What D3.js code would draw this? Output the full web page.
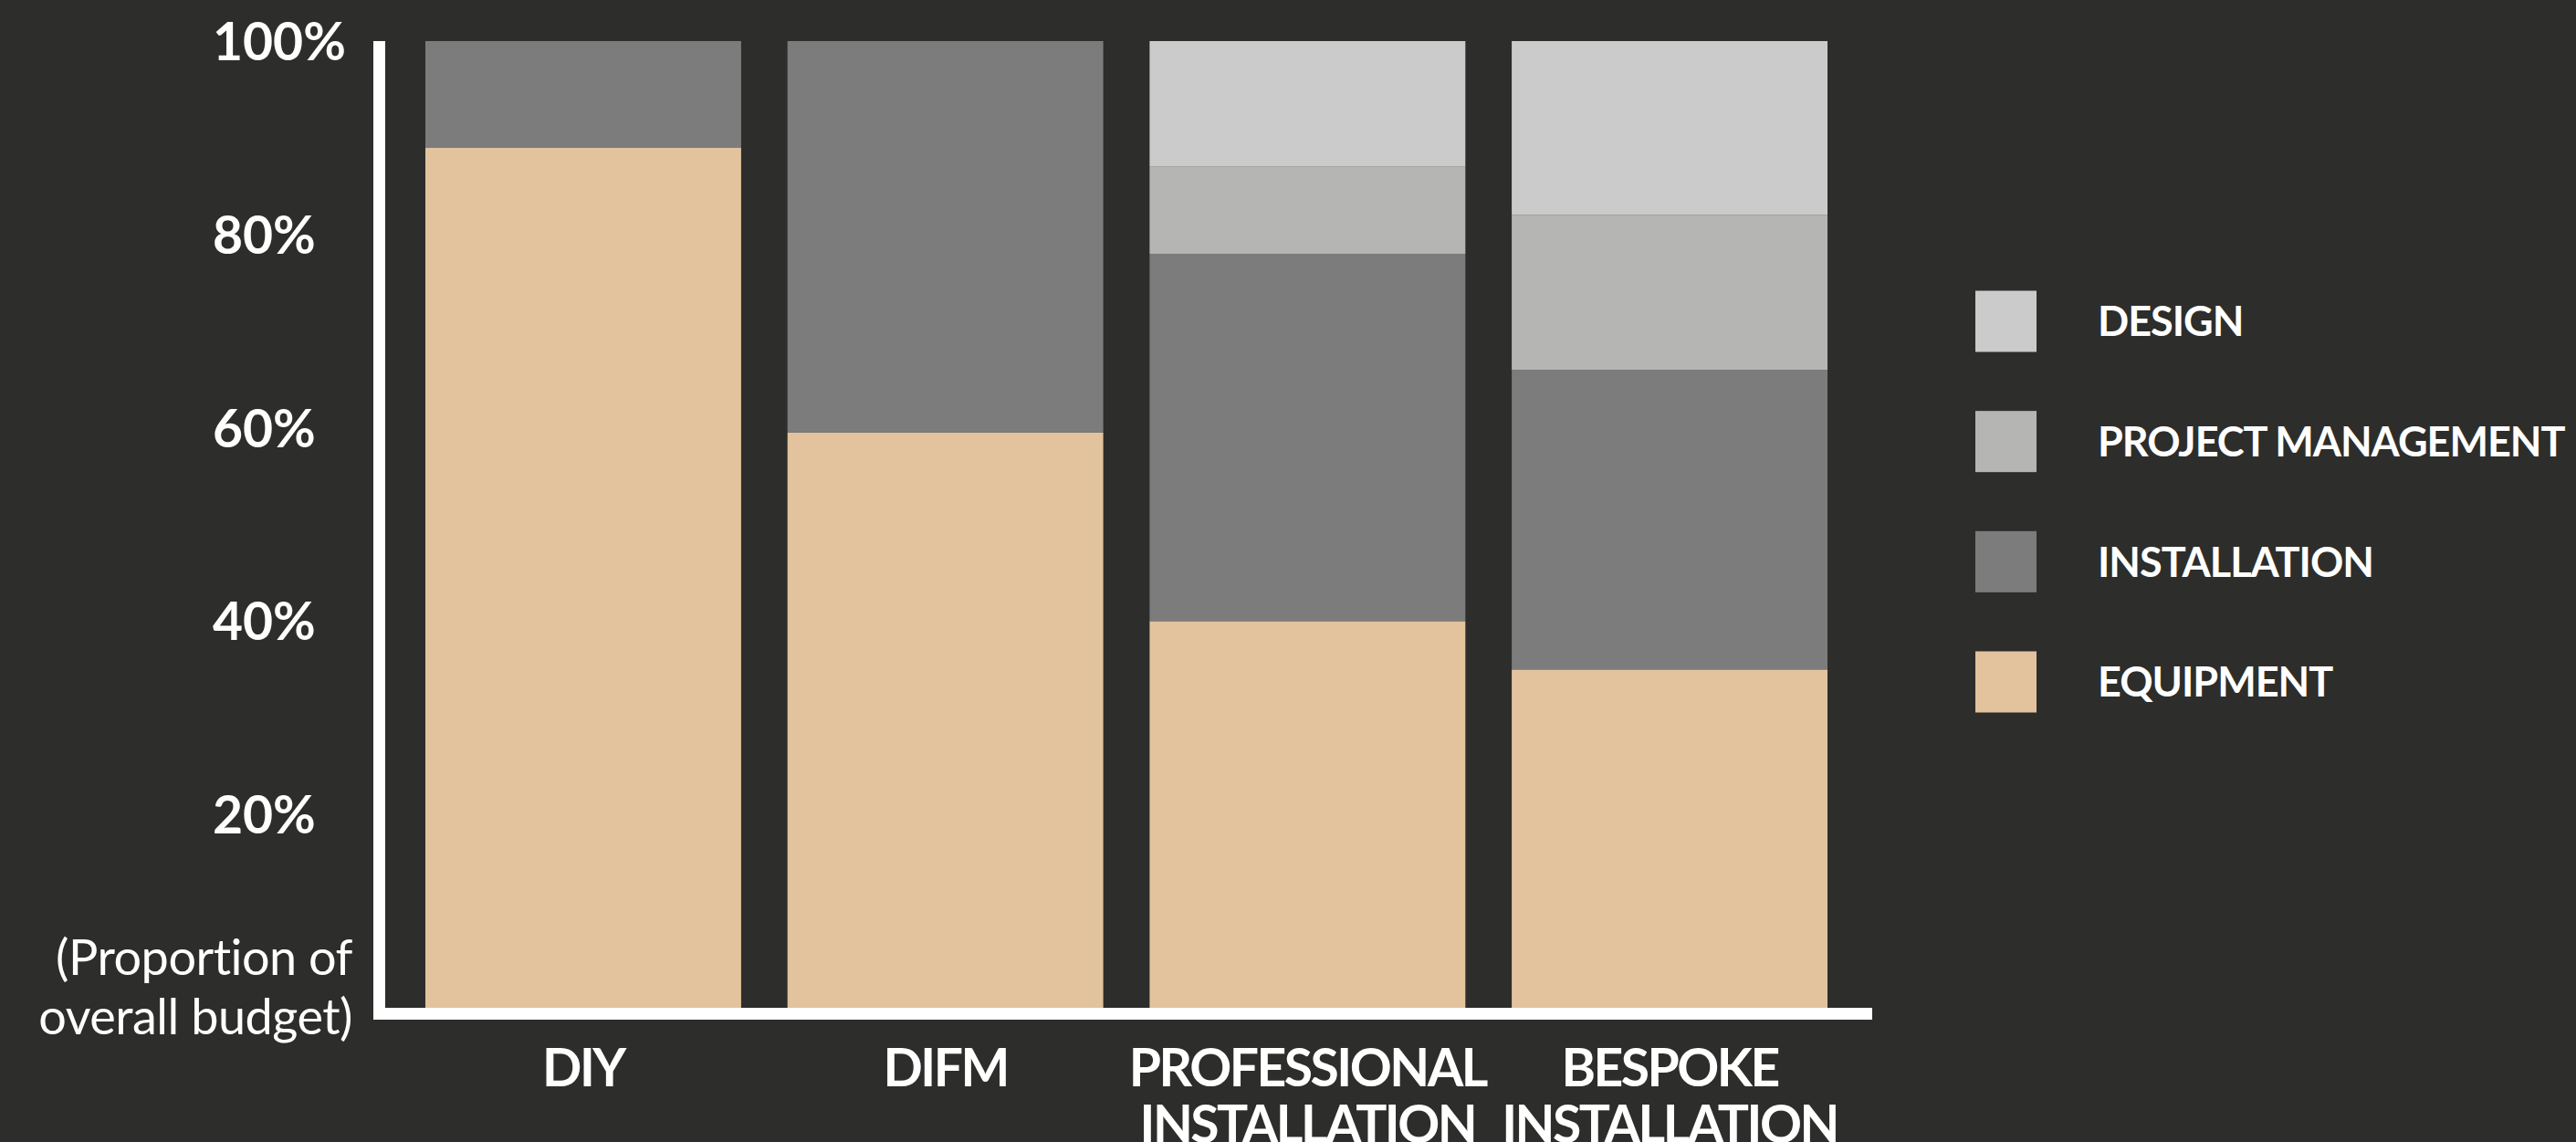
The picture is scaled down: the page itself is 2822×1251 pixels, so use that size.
<!DOCTYPE html>
<html>
<head>
<meta charset="utf-8">
<script src="https://cdn.jsdelivr.net/npm/d3@7"></script>
<style>
  html, body { margin: 0; padding: 0; background: #2d2d2b; }
  svg { display: block; font-family: Lato, "Open Sans", sans-serif; }
</style>
</head>
<body>
<svg class="stack-chart"></svg>
<script>
let width = 2822
let height = 1251

// data (percent of budget)
let categories = ['DIY', 'DIFM', 'PROFESSIONAL INSTALLATION', 'BESPOKE INSTALLATION']
let categoryLines = [['DIY'], ['DIFM'], ['PROFESSIONAL', 'INSTALLATION'], ['BESPOKE', 'INSTALLATION']]
let seriesNames = ['EQUIPMENT', 'INSTALLATION', 'PROJECT MANAGEMENT', 'DESIGN']
let equipment = [89, 59.5, 40, 35]
let installation = [11, 40.5, 38, 31]
let projectManagement = [0, 0, 9, 16]
let design = [0, 0, 13, 18]
let yTicks = [20, 40, 60, 80, 100]
let seriesColors = ['#e2c39e', '#7c7c7c', '#b5b5b3', '#cbcbcb']

let rows = categories.map((c, i) => {
  return {
    category: c,
    'EQUIPMENT': equipment[i],
    'INSTALLATION': installation[i],
    'PROJECT MANAGEMENT': projectManagement[i],
    'DESIGN': design[i]
  }
})

let svg = d3.select('.stack-chart')
  .attr('width', width)
  .attr('height', height)

svg.append('rect')
  .attr('width', width)
  .attr('height', height)
  .attr('fill', '#2d2d2b')

let x = d3.scaleBand()
  .domain(categories)
  .range([416, 2052])
  .paddingInner(0.128)
  .paddingOuter(0.126)

let y = d3.scaleLinear()
  .domain([0, 100])
  .range([1104, 45])

let color = d3.scaleOrdinal()
  .domain(seriesNames)
  .range(seriesColors)

let stacked = d3.stack()
  .keys(seriesNames)(rows)

svg.append('g')
  .selectAll('g')
  .data(stacked)
  .enter()
  .append('g')
  .attr('fill', (d) => color(d.key))
  .selectAll('rect')
  .data((d) => d)
  .enter()
  .append('rect')
  .attr('x', (d) => x(d.data.category))
  .attr('width', x.bandwidth())
  .attr('y', (d) => y(d[1]))
  .attr('height', (d) => y(d[0]) - y(d[1]))

// y axis: labels left aligned, thick white line
let yAxis = svg.append('g')
  .attr('transform', 'translate(415.5, 0)')
  .call(d3.axisLeft(y)
    .tickValues(yTicks)
    .tickSize(0)
    .tickFormat((d) => `${d}%`))

yAxis.select('.domain').remove()
yAxis.selectAll('text')
  .attr('x', 233 - 415.5)
  .attr('text-anchor', 'start')
  .attr('dy', '0.36em')
  .attr('fill', '#ffffff')
  .style('font-size', '57px')
  .style('font-weight', 'bold')
  .style('font-family', 'Lato')

svg.append('line')
  .attr('x1', 415.5)
  .attr('x2', 415.5)
  .attr('y1', y(100))
  .attr('y2', 1117)
  .attr('stroke', '#ffffff')
  .attr('stroke-width', 13)

svg.append('line')
  .attr('x1', 411)
  .attr('x2', 2051)
  .attr('y1', 1110.5)
  .attr('y2', 1110.5)
  .attr('stroke', '#ffffff')
  .attr('stroke-width', 13)

let note = svg.append('text')
  .attr('text-anchor', 'end')
  .attr('fill', '#ffffff')
  .style('font-size', '54px')
  .style('font-weight', 'normal')
  .style('letter-spacing', '-0.5px')
note.append('tspan').attr('x', 386).attr('y', 1068).text('(Proportion of')
note.append('tspan').attr('x', 386).attr('y', 1133).text('overall budget)')

// category labels under the bars
let xLabels = svg.append('g')
  .selectAll('text')
  .data(categories)
  .enter()
  .append('text')
  .attr('text-anchor', 'middle')
  .attr('fill', '#ffffff')
  .style('font-size', '57px')
  .style('font-weight', 'bold')
  .style('letter-spacing', '-2.5px')

xLabels.selectAll('tspan')
  .data((d, i) => categoryLines[i].map((t) => ({ t: t, c: d })))
  .enter()
  .append('tspan')
  .attr('x', (d) => x(d.c) + x.bandwidth() / 2)
  .attr('y', (d, j) => 1190 + j * 62)
  .text((d) => d.t)

// legend, top item is the top of the stack
let legendItems = seriesNames.slice().reverse()
let legendY = d3.scalePoint()
  .domain(legendItems)
  .range([352, 747])

let legend = svg.append('g')
  .selectAll('g')
  .data(legendItems)
  .enter()
  .append('g')
  .attr('transform', (d) => `translate(2164, ${legendY(d)})`)

legend.append('rect')
  .attr('x', 0)
  .attr('y', -33.5)
  .attr('width', 67)
  .attr('height', 67)
  .attr('fill', (d) => color(d))

legend.append('text')
  .attr('x', 134)
  .attr('dy', '0.36em')
  .attr('fill', '#ffffff')
  .style('font-size', '45px')
  .style('font-weight', 'bold')
  .style('letter-spacing', '-1px')
  .text((d) => d)
</script>
</body>
</html>
